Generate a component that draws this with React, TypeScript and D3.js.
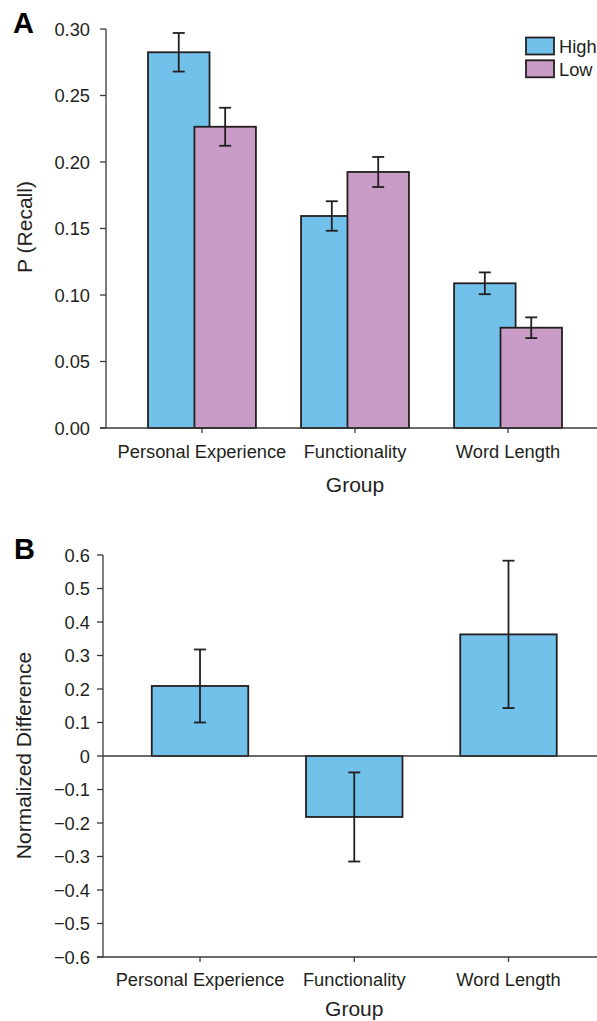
import React from "react";
import * as d3 from "d3";

const categories = ["Personal Experience", "Functionality", "Word Length"];
const seriesNames = ["High", "Low"];
const highMeans = [0.2825, 0.1594, 0.1088];
const highErr = [0.0145, 0.0111, 0.0082];
const lowMeans = [0.2265, 0.1925, 0.0754];
const lowErr = [0.0143, 0.0113, 0.0078];
const diffMeans = [0.209, -0.182, 0.363];
const diffErr = [0.109, 0.133, 0.22];
const topTicks = [0, 0.05, 0.1, 0.15, 0.2, 0.25, 0.3];
const bottomTicks = [-0.6, -0.5, -0.4, -0.3, -0.2, -0.1, 0, 0.1, 0.2, 0.3, 0.4, 0.5, 0.6];

const BLUE = "#72c1ea";
const PURPLE = "#c99bc7";
const STROKE = "#231f20";
const AXIS = "#3a3a3a";
const TEXT = "#231f20";
const FONT = "'Liberation Sans', Arial, Helvetica, sans-serif";
const FS = 18.3;
const TFS = 21;

function fmtBottom(v: number) {
  if (Math.abs(v) < 1e-9) return "0";
  const s = d3.format(".1f")(Math.abs(v));
  return v < 0 ? "\u2212" + s : s;
}

function ErrorBar({ x, y1, y2 }: { x: number; y1: number; y2: number }) {
  const cw = 6;
  return (
    <g stroke={STROKE} strokeWidth={1.8}>
      <line x1={x} x2={x} y1={y1} y2={y2} />
      <line x1={x - cw} x2={x + cw} y1={y1} y2={y1} />
      <line x1={x - cw} x2={x + cw} y1={y2} y2={y2} />
    </g>
  );
}

export default function App() {
  // ---------- Panel A ----------
  const axA = 106;
  const xA = d3.scalePoint<string>().domain(categories).range([axA, 604]).padding(0.627);
  const yA = d3.scaleLinear().domain([0, 0.3]).range([428, 29]);
  const barWA = 61.5;
  const offA = 23.2;
  const series = [
    { name: seriesNames[0], means: highMeans, errs: highErr, color: BLUE, off: -offA },
    { name: seriesNames[1], means: lowMeans, errs: lowErr, color: PURPLE, off: offA },
  ];

  // ---------- Panel B ----------
  const axB = 103;
  const xB = d3.scalePoint<string>().domain(categories).range([axB, 605.5]).padding(0.629);
  const yB = d3.scaleLinear().domain([-0.6, 0.6]).range([957, 555]);
  const barWB = 96.5;

  const textStyle = { fontFamily: FONT, fontSize: FS, fill: TEXT } as any;
  const titleStyle = { fontFamily: FONT, fontSize: TFS, fill: TEXT } as any;

  return (
    <svg
      width={597}
      height={1021}
      style={{ position: "absolute", left: 0, top: 0, background: "#fff" }}
    >
      {/* Panel A */}
      <text x={13} y={33} style={{ fontFamily: FONT, fontSize: 29, fontWeight: 700, fill: "#000" }}>A</text>
      <line x1={axA} x2={axA} y1={yA(0.3)} y2={yA(0)} stroke={AXIS} strokeWidth={1.3} />
      {topTicks.map((t) => (
        <g key={"ta" + t}>
          <line x1={axA - 6} x2={axA} y1={yA(t)} y2={yA(t)} stroke={AXIS} strokeWidth={1.3} />
          <text x={90} y={yA(t)} dy="0.36em" textAnchor="end" style={textStyle}>
            {d3.format(".2f")(t)}
          </text>
        </g>
      ))}
      <text
        transform={`translate(${31.5},${227}) rotate(-90)`}
        textAnchor="middle"
        style={titleStyle}
      >
        P (Recall)
      </text>
      {series.map((s) =>
        categories.map((c, i) => {
          const cx = (xA(c) as number) + s.off;
          return (
            <rect
              key={s.name + c}
              x={cx - barWA / 2}
              y={yA(s.means[i])}
              width={barWA}
              height={yA(0) - yA(s.means[i])}
              fill={s.color}
              stroke={STROKE}
              strokeWidth={1.8}
            />
          );
        })
      )}
      {series.map((s) =>
        categories.map((c, i) => {
          const cx = (xA(c) as number) + s.off;
          return (
            <ErrorBar
              key={"e" + s.name + c}
              x={cx}
              y1={yA(s.means[i] + s.errs[i])}
              y2={yA(s.means[i] - s.errs[i])}
            />
          );
        })
      )}
      <line x1={axA - 6} x2={597} y1={yA(0)} y2={yA(0)} stroke={AXIS} strokeWidth={1.3} />
      {categories.map((c) => (
        <g key={"xa" + c}>
          <line x1={xA(c)} x2={xA(c)} y1={yA(0)} y2={yA(0) + 5} stroke={AXIS} strokeWidth={1.3} />
          <text x={xA(c)} y={457.5} textAnchor="middle" style={textStyle}>{c}</text>
        </g>
      ))}
      <text x={xA(categories[1])} y={492} textAnchor="middle" style={titleStyle}>Group</text>
      {series.map((s, i) => (
        <g key={"lg" + s.name}>
          <rect x={526} y={37.5 + i * 22.8} width={28} height={17} fill={s.color} stroke={STROKE} strokeWidth={1.8} />
          <text x={559} y={53 + i * 22.8} style={textStyle}>{s.name}</text>
        </g>
      ))}

      {/* Panel B */}
      <text x={14} y={559} style={{ fontFamily: FONT, fontSize: 29, fontWeight: 700, fill: "#000" }}>B</text>
      <line x1={axB} x2={axB} y1={yB(0.6)} y2={yB(-0.6)} stroke={AXIS} strokeWidth={1.3} />
      {bottomTicks.map((t) => (
        <g key={"tb" + t}>
          <line x1={axB - 6} x2={axB} y1={yB(t)} y2={yB(t)} stroke={AXIS} strokeWidth={1.3} />
          <text x={90} y={yB(t)} dy="0.36em" textAnchor="end" style={textStyle}>
            {fmtBottom(t)}
          </text>
        </g>
      ))}
      <text
        transform={`translate(${30.5},${755.5}) rotate(-90)`}
        textAnchor="middle"
        style={titleStyle}
      >
        Normalized Difference
      </text>
      {categories.map((c, i) => {
        const cx = xB(c) as number;
        const y0 = yB(0);
        const yv = yB(diffMeans[i]);
        return (
          <rect
            key={"b" + c}
            x={cx - barWB / 2}
            y={Math.min(y0, yv)}
            width={barWB}
            height={Math.abs(yv - y0)}
            fill={BLUE}
            stroke={STROKE}
            strokeWidth={1.8}
          />
        );
      })}
      <line x1={axB} x2={597} y1={yB(0)} y2={yB(0)} stroke={AXIS} strokeWidth={1.3} />
      {categories.map((c, i) => (
        <ErrorBar
          key={"eb" + c}
          x={xB(c) as number}
          y1={yB(diffMeans[i] + diffErr[i])}
          y2={yB(diffMeans[i] - diffErr[i])}
        />
      ))}
      <line x1={axB - 6} x2={597} y1={yB(-0.6)} y2={yB(-0.6)} stroke={AXIS} strokeWidth={1.3} />
      {categories.map((c) => (
        <g key={"xb" + c}>
          <line x1={xB(c)} x2={xB(c)} y1={yB(-0.6)} y2={yB(-0.6) + 5} stroke={AXIS} strokeWidth={1.3} />
          <text x={xB(c)} y={986} textAnchor="middle" style={textStyle}>{c}</text>
        </g>
      ))}
      <text x={xB(categories[1])} y={1015.5} textAnchor="middle" style={titleStyle}>Group</text>
    </svg>
  );
}
